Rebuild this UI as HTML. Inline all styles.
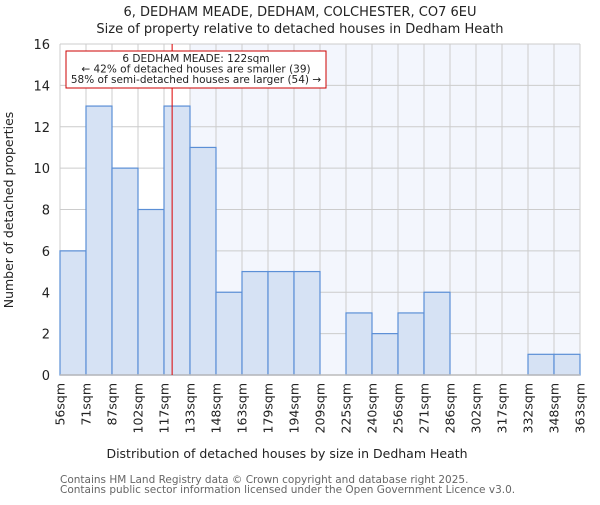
<!DOCTYPE html>
<html><head><meta charset="utf-8"><style>
body{margin:0;background:#fff}
svg{font-family:"DejaVu Sans","Liberation Sans",sans-serif}
</style></head><body>
<svg id="chart" width="600" height="500" viewBox="0 0 600 500">
<text x="300" y="16" text-anchor="middle" font-size="13" fill="#222">6, DEDHAM MEADE, DEDHAM, COLCHESTER, CO7 6EU</text>
<text x="300" y="33" text-anchor="middle" font-size="13" fill="#222">Size of property relative to detached houses in Dedham Heath</text>
<g id="plot"></g>
<text x="287" y="458" text-anchor="middle" font-size="12.5" fill="#222">Distribution of detached houses by size in Dedham Heath</text>
<text transform="translate(13,210) rotate(-90)" text-anchor="middle" font-size="12.5" fill="#222">Number of detached properties</text>
<text x="60" y="483" font-size="10.5" fill="#666">Contains HM Land Registry data © Crown copyright and database right 2025.</text>
<text x="60" y="493" font-size="10.5" fill="#666">Contains public sector information licensed under the Open Government Licence v3.0.</text>
</svg>
<script>
const edgeLabels=["56sqm","71sqm","87sqm","102sqm","117sqm","133sqm","148sqm","163sqm","179sqm","194sqm","209sqm","225sqm","240sqm","256sqm","271sqm","286sqm","302sqm","317sqm","332sqm","348sqm","363sqm"];
const edges=[56,71,87,102,117,133,148,163,179,194,209,225,240,256,271,286,302,317,332,348,363];
const counts=[6,13,10,8,13,11,4,5,5,5,0,3,2,3,4,0,0,0,1,1];
const yTicks=[0,2,4,6,8,10,12,14,16];
const propertySize=122;
const NS="http://www.w3.org/2000/svg";
const L=60,R=580,T=44,B=375,yMax=16;
const n=counts.length,bw=(R-L)/n;
const xIdx=i=>L+i*bw;
const y=v=>B-(v/yMax)*(B-T);
function xVal(v){for(let i=0;i<n;i++){if(v<=edges[i+1])return xIdx(i)+(v-edges[i])/(edges[i+1]-edges[i])*bw;}return R;}
const g=document.getElementById('plot');
function mk(t,a){const e=document.createElementNS(NS,t);for(const k in a)e.setAttribute(k,a[k]);g.appendChild(e);return e;}
let hi=0;while(hi<n&&edges[hi+1]<=propertySize)hi++;
const shadeX=xIdx(hi+1);
const bg1=mk('rect',{x:L,y:T,width:shadeX-L,height:B-T,fill:'#fff'});


const bg2=mk('rect',{x:shadeX,y:T,width:R-shadeX,height:B-T,fill:'#f3f6fd'});


yTicks.forEach(v=>{
 const l=mk('line',{x1:L,x2:R,y1:y(v),y2:y(v),stroke:'#ccc','stroke-width':1});
 
 
 const t=mk('text',{x:L-10,y:y(v)+5,'text-anchor':'end','font-size':13,fill:'#222'});
 t.textContent=v;
 
 
});
edgeLabels.forEach((s,i)=>{
 const l=mk('line',{x1:xIdx(i),x2:xIdx(i),y1:T,y2:B,stroke:'#ccc','stroke-width':1});
 
 
 const t=mk('text',{transform:`translate(${xIdx(i)+4.5},383) rotate(-90)`,'text-anchor':'end','font-size':12.5,fill:'#222'});
 t.textContent=s;
 
 
});
counts.forEach((c,i)=>{
 if(c<=0)return;
 const r=mk('rect',{x:xIdx(i),y:y(c),width:bw,height:B-y(c),fill:'#d6e2f4',stroke:'#5b8fd6','stroke-width':1.2});
 
 
});
const ax=mk('line',{x1:L,x2:R,y1:B,y2:B,stroke:'#bbb','stroke-width':1.5});


const px=xVal(propertySize);
const ml=mk('line',{x1:px,x2:px,y1:T,y2:B,stroke:'#d00','stroke-width':1});


const box=mk('rect',{x:66,y:51,width:260,height:37,fill:'#fff',stroke:'#c00','stroke-width':1});


["6 DEDHAM MEADE: 122sqm","← 42% of detached houses are smaller (39)","58% of semi-detached houses are larger (54) →"].forEach((s,i)=>{
 const t=mk('text',{x:196,y:62+i*10.5,'text-anchor':'middle','font-size':10.5,fill:'#222'});
 t.textContent=s;
 
 
});
</script>
</body></html>
